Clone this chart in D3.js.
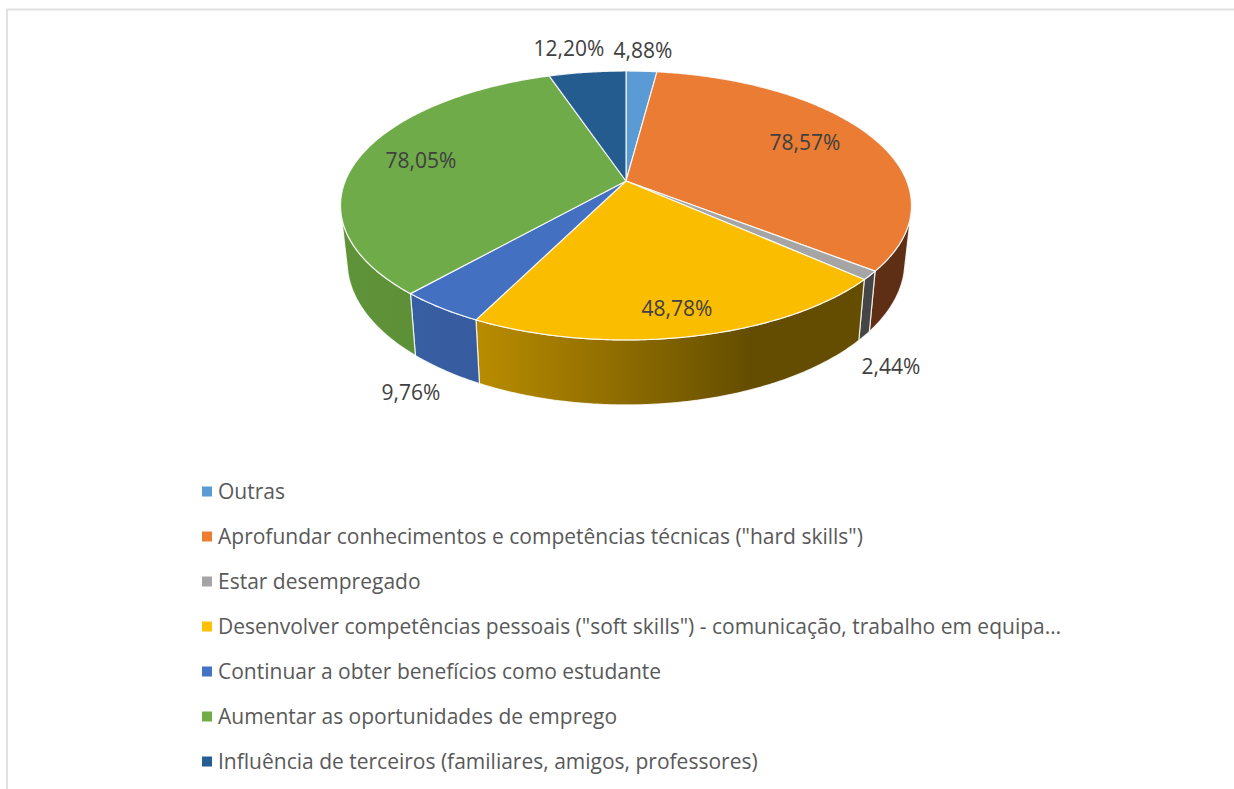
<!DOCTYPE html>
<html><head><meta charset="utf-8">
<script src="https://cdn.jsdelivr.net/npm/d3@7"></script>
<style>html,body{margin:0;padding:0;background:#fff}svg{display:block}text{font-family:"Open Sans",sans-serif}</style>
</head><body><svg id="c" width="1234" height="789"></svg>
<script>
const categories = ["Outras","Aprofundar conhecimentos e competências técnicas (\"hard skills\")","Estar desempregado","Desenvolver competências pessoais (\"soft skills\") - comunicação, trabalho em equipa…","Continuar a obter benefícios como estudante","Aumentar as oportunidades de emprego","Influência de terceiros (familiares, amigos, professores)"];
const values = [4.88,78.57,2.44,48.78,9.76,78.05,12.20];
const valueLabels = ["4,88%","78,57%","2,44%","48,78%","9,76%","78,05%","12,20%"];
const colors = ["#5b9bd5","#ed7d31","#a5a5a5","#ffc000","#4472c4","#70ad47","#255e91"];
const faceColors = ["#5b9bd5","#ea7c33","#a5a5a5","#fbbd00","#4370c0","#6fab49","#255c8f"];

const svg = d3.select("#c");
// chart frame
svg.append("path").attr("d","M7,789V9.5H1234").attr("fill","none").attr("stroke","#e2e2e2").attr("stroke-width",2);

const cx=626, cy=181, A=280.7, B=130, k=0.182, shrink=0.977, lowerOffset=54.4, lowerB=138.7;
function proj(t,lower){
  const u=Math.sin(t), v=-Math.cos(t), w=1-k*v;
  return lower ? [cx+shrink*A*u/w, cy+lowerOffset+lowerB*v/w] : [cx+A*u/w, cy+B*v/w];
}
const arcs = d3.pie().sort(null).value(d=>d)(values);
const line = d3.line();
const samples=(a,b)=>{const n=Math.max(2,Math.ceil((b-a)/0.01));return d3.range(n+1).map(i=>a+(b-a)*i/n);};
const visA=105*Math.PI/180, visB=255*Math.PI/180;

const defs=svg.append("defs");
const grad=(id,stops)=>{const g=defs.append("linearGradient").attr("id",id).attr("gradientUnits","userSpaceOnUse").attr("x1",340).attr("x2",911).attr("y1",0).attr("y2",0);
  stops.forEach(s=>g.append("stop").attr("offset",s[0]).attr("stop-color",s[1]));return `url(#${id})`;};
const shade=[
  [[0,"#5e2f14"],[1,"#5e2f14"]],
  [[0,"#5e2f14"],[1,"#5e2f14"]],
  [[0,"#464646"],[1,"#464646"]],
  [[0,"#c79800"],[.24,"#b98c00"],[.5,"#8c6b00"],[.72,"#644d00"],[1,"#644d00"]],
  [[0,"#3a63a8"],[.3,"#36599c"],[.4,"#2f5290"],[1,"#2f5290"]],
  [[0,"#5f9339"],[.2,"#5c8e36"],[1,"#5c8e36"]],
  [[0,"#1d4a73"],[1,"#1d4a73"]]
].map((s,i)=>grad("side"+i,s));

// side walls
arcs.forEach((d,i)=>{
  const a=Math.max(d.startAngle,visA), b=Math.min(d.endAngle,visB);
  if(b<=a) return;
  const ts=samples(a,b);
  const pts=ts.map(t=>proj(t,false)).concat(ts.slice().reverse().map(t=>proj(t,true)));
  svg.append("path").attr("d",line(pts)+"Z").attr("fill",shade[i]).attr("stroke","#fff").attr("stroke-opacity",.8).attr("stroke-width",1.2).attr("stroke-linejoin","round");
});
// top faces
arcs.forEach((d,i)=>{
  const pts=[[cx,cy]].concat(samples(d.startAngle,d.endAngle).map(t=>proj(t,false)));
  svg.append("path").attr("d",line(pts)+"Z").attr("fill",faceColors[i]).attr("stroke","#fff").attr("stroke-opacity",.85).attr("stroke-width",1.2).attr("stroke-linejoin","round");
});
// value labels
const labelAt=[[643,50],[805,142],[891,366],[677,308],[411,392],[421,160],[569,48]];
valueLabels.forEach((t,i)=>{
  svg.append("text").attr("x",labelAt[i][0]).attr("y",labelAt[i][1]).attr("text-anchor","middle").attr("dominant-baseline","central")
    .attr("font-size",21).attr("fill","#404040").text(t);
});
// legend
const rowY=d3.scalePoint().domain(d3.range(categories.length)).range([491,761]);
categories.forEach((c,i)=>{
  svg.append("rect").attr("x",202).attr("y",rowY(i)-4.5).attr("width",10).attr("height",10).attr("fill",colors[i]);
  svg.append("text").attr("x",218).attr("y",rowY(i)).attr("dominant-baseline","central").attr("font-size",21).attr("fill","#595959").text(c);
});
</script></body></html>
